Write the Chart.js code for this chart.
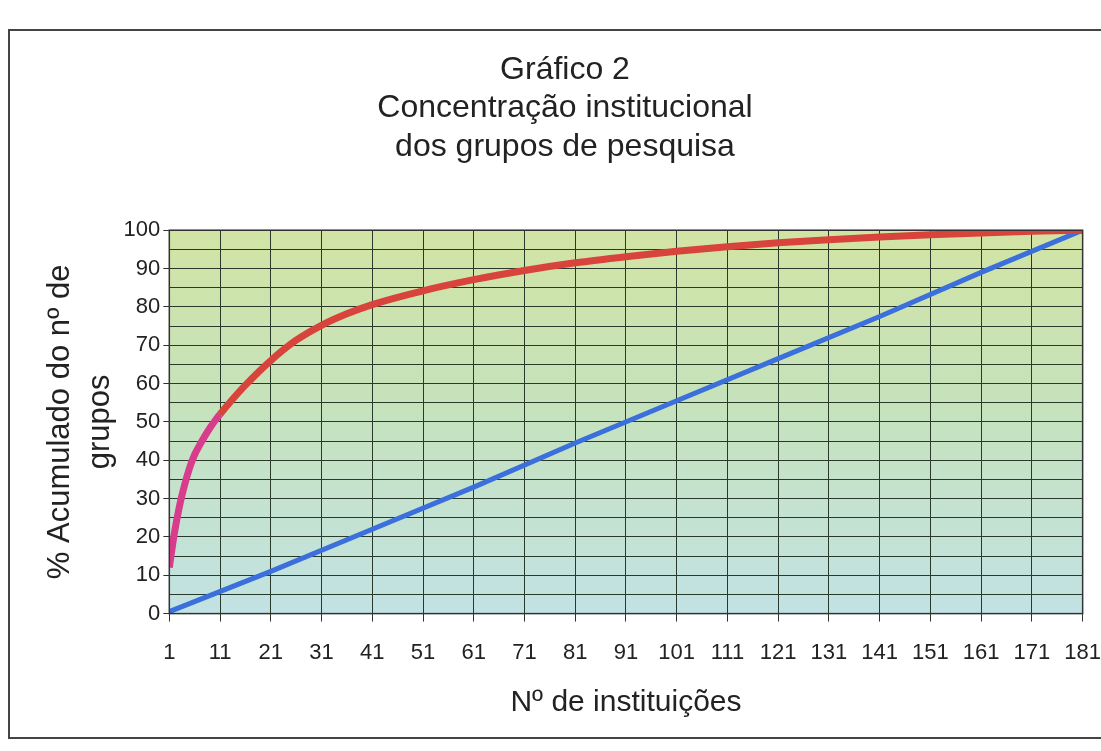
<!DOCTYPE html>
<html>
<head>
<meta charset="utf-8">
<script src="https://cdn.jsdelivr.net/npm/chart.js@4/dist/chart.umd.min.js"></script>
<style>
  body { margin: 0; background: #fff; }
  #wrap { position: relative; width: 1101px; height: 751px; overflow: hidden; }
  #frame { position: absolute; left: 8px; top: 29px; width: 1110px; height: 706px;
           border-left: 2px solid #444; border-top: 2px solid #444; border-bottom: 2px solid #444; pointer-events: none; }
</style>
</head>
<body>
<div id="wrap">
  <canvas id="grafico" width="1119" height="751"></canvas>
  <div id="frame"></div>
</div>
<script>
// nº de instituições (eixo x) e % acumulado do nº de grupos
var xTicks = [1, 11, 21, 31, 41, 51, 61, 71, 81, 91, 101, 111, 121, 131, 141, 151, 161, 171, 181];
var redX = [1, 2, 3, 4, 5, 6, 7, 8, 9, 10, 11, 13, 16, 21, 26, 31, 36, 41, 51, 61, 71, 81, 91, 101, 111, 121, 131, 141, 151, 161, 171, 181];
var redY = [12, 21, 28, 33.5, 38, 41.5, 44, 46.3, 48.4, 50.3, 52, 55.2, 59.6, 66, 71.3, 75.2, 78.2, 80.6, 84.2, 87.1, 89.5, 91.5, 93.1, 94.5, 95.7, 96.7, 97.5, 98.2, 98.8, 99.3, 99.7, 100];
var blueX = [1, 21, 41, 61, 81, 101, 121, 141, 161, 181];
var blueY = [0.5, 11, 22, 33, 44.5, 55.5, 66.5, 77.5, 89, 100];

var ctx = document.getElementById('grafico').getContext('2d');

function pares(xs, ys) {
    return xs.map(function(x, i) { return { x: x, y: ys[i] }; });
}

// fundo verde/azul da área do gráfico
var fundo = {
    id: 'fundo',
    afterLayout: function(chart) {
        // o canvas é mais largo que a página; recentra o título na parte visível
        if (chart.titleBlock) {
            chart.titleBlock.right -= 19;
        }
    },
    beforeDraw: function(chart) {
        var a = chart.chartArea;
        var c = chart.ctx;
        var g = c.createLinearGradient(0, a.top, 0, a.bottom);
        g.addColorStop(0, '#d2e4a4');
        g.addColorStop(0.45, '#c6e2bc');
        g.addColorStop(1, '#c2e2e4');
        c.save();
        c.fillStyle = g;
        c.fillRect(a.left, a.top, a.right - a.left, a.bottom - a.top);
        c.restore();
    },
    afterDraw: function(chart) {
        var a = chart.chartArea;
        var c = chart.ctx;
        c.save();
        c.strokeStyle = '#333';
        c.lineWidth = 1.5;
        c.strokeRect(a.left, a.top, a.right - a.left, a.bottom - a.top);
        c.restore();
    }
};

var myChart = new Chart(ctx, {
    type: 'line',
    data: {
        datasets: [{
            label: 'Acumulado',
            data: pares(redX, redY),
            borderColor: '#d8443c',
            borderWidth: 7,
            pointRadius: 0,
            cubicInterpolationMode: 'monotone',
            segment: {
                borderColor: function(s) { return s.p0.parsed.x < 11 ? '#d83c8c' : undefined; }
            }
        }, {
            label: 'Igualdade',
            data: pares(blueX, blueY),
            borderColor: '#3b6fdc',
            borderWidth: 5,
            pointRadius: 0
        }]
    },
    plugins: [fundo],
    options: {
        responsive: false,
        animation: false,
        layout: { padding: { top: 30, left: 30, right: 0, bottom: 30 } },
        plugins: {
            legend: { display: false },
            tooltip: { enabled: false },
            title: {
                display: true,
                text: ['Gráfico 2', 'Concentração institucional', 'dos grupos de pesquisa'],
                color: '#222',
                font: { family: 'Liberation Sans', size: 32, weight: 'normal', lineHeight: 1.2 },
                padding: { top: 21, bottom: 64 }
            }
        },
        scales: {
            x: {
                type: 'linear',
                min: 1,
                max: 181,
                afterBuildTicks: function(axis) {
                    axis.ticks = xTicks.map(function(v) { return { value: v }; });
                },
                grid: { color: '#2a3a2a', lineWidth: 1, tickLength: 8, tickColor: '#333' },
                border: { display: false },
                ticks: {
                    color: '#222', padding: 18, maxRotation: 0, autoSkip: false,
                    font: { family: 'Liberation Sans', size: 22 }
                },
                title: {
                    display: true,
                    text: 'Nº de instituições',
                    color: '#222',
                    font: { family: 'Liberation Sans', size: 30, lineHeight: 1.2 },
                    padding: { top: 1, bottom: 0 }
                }
            },
            y: {
                min: 0,
                max: 100,
                ticks: {
                    stepSize: 5,
                    autoSkip: false,
                    color: '#222',
                    padding: 3,
                    font: { family: 'Liberation Sans', size: 22 },
                    callback: function(v) { return v % 10 === 0 ? v : ''; }
                },
                grid: {
                    color: '#2a3a2a', lineWidth: 1, tickLength: 6,
                    tickColor: function(c) { return c.tick && c.tick.value % 10 === 0 ? '#333' : 'rgba(0,0,0,0)'; }
                },
                border: { display: false },
                title: {
                    display: true,
                    text: ['% Acumulado do nº de', 'grupos'],
                    color: '#222',
                    font: { family: 'Liberation Sans', size: 31, lineHeight: 1.3 },
                    padding: { top: 10, bottom: 0 }
                }
            }
        }
    }
});
</script>
</body>
</html>
